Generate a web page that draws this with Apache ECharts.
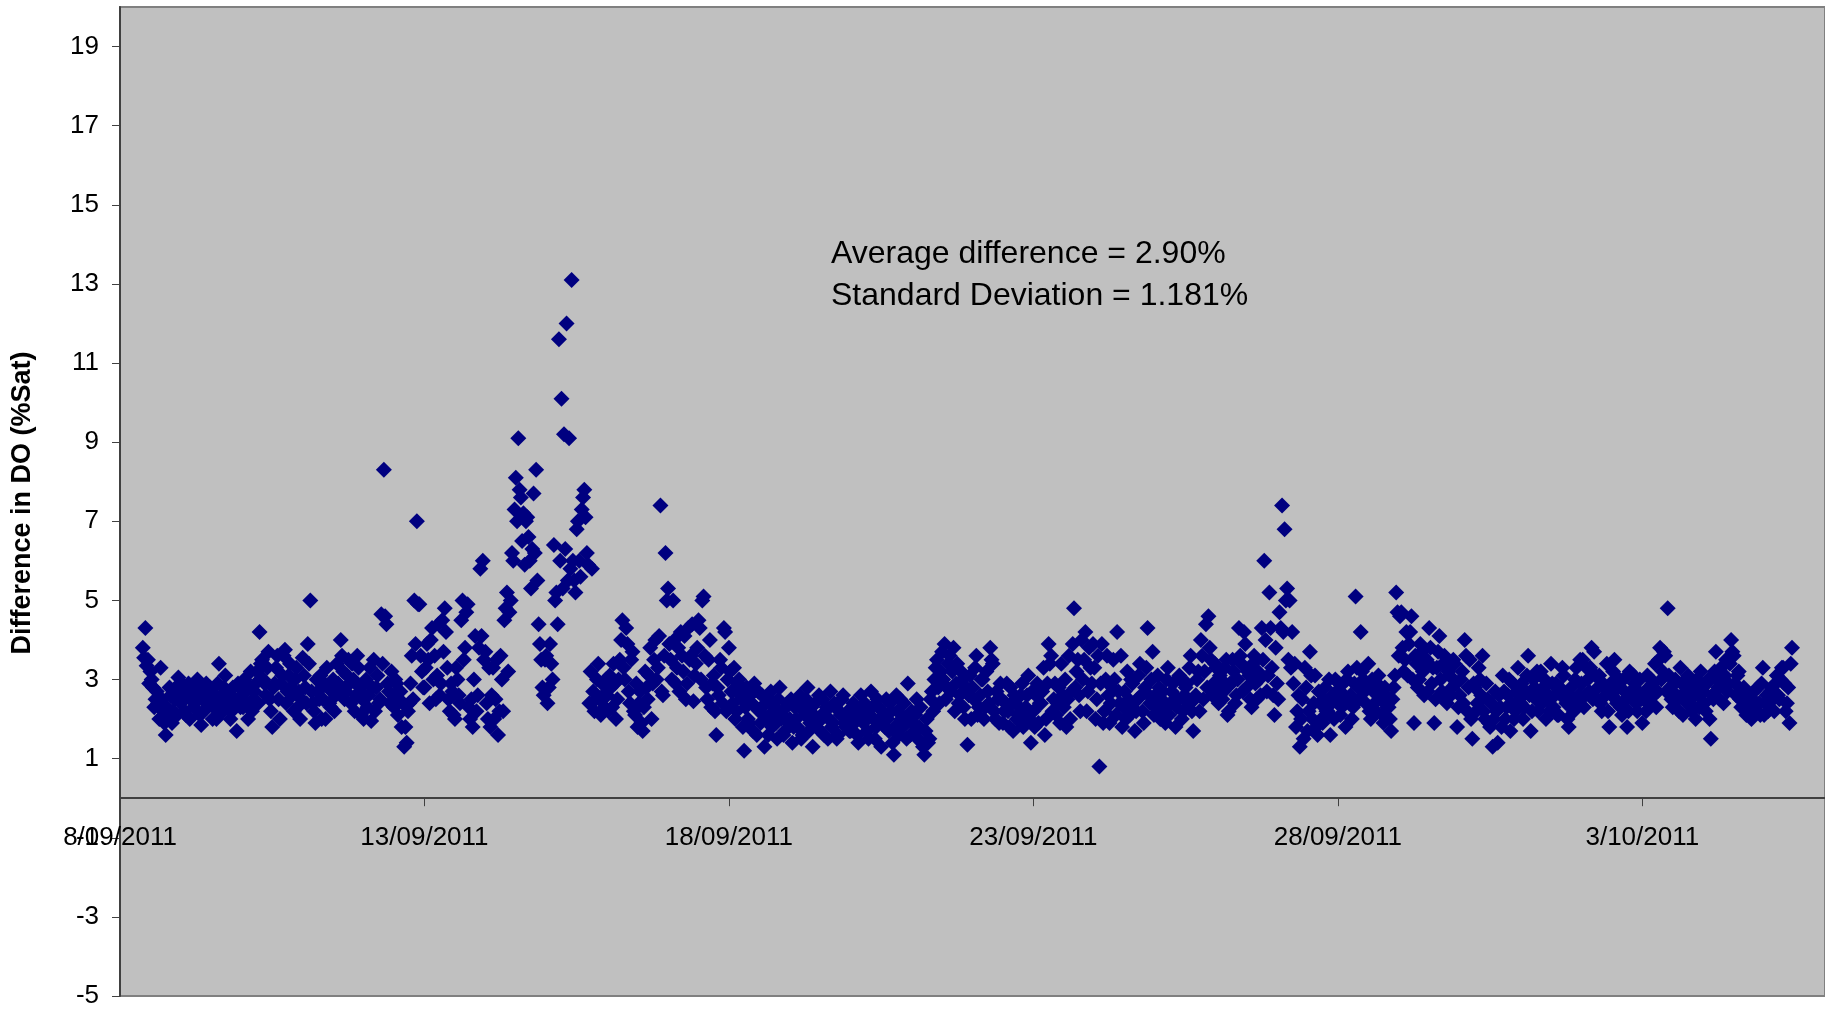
<!DOCTYPE html>
<html>
<head>
<meta charset="utf-8">
<script src="https://cdn.jsdelivr.net/npm/echarts@6/dist/echarts.min.js"></script>
<style>
html,body{margin:0;padding:0;background:#fff;}
#chart{width:1825px;height:1009px;}
</style>
</head>
<body>
<div id="chart"></div>
<script>
// Difference in DO (%Sat).
// On-the-hour readings: first array starts 8/09/2011 09:00, the others at 00:00.
const startHour = 9;
const d0809 = [3.8,4.3,3.5,3.2,2.8,2.5,2.4,3.3,2.2,1.6,2.0,2.6,2.2,2.8,3.05];
const d0909 = [2.4,2.7,2.1,2.9,2.5,2.3,2.8,2.6,1.85,2.2,2.9,2.5,2.7,2.3,2.0,3.4,2.6,2.8,2.4,2.7,2.2,2.5,1.7,2.8];
const d1009 = [2.6,3.0,2.4,2.8,2.2,2.7,3.2,4.2,3.5,2.9,3.3,2.5,1.8,2.9,3.6,2.0,3.1,3.75,2.7,3.4,2.6,3.0,2.3,2.0];
const d1109 = [3.55,2.8,3.9,5.0,2.4,1.9,2.7,3.1,2.5,2.0,2.8,2.3,3.0,2.6,2.9,4.0,3.2,2.7,3.5,2.4,3.0,2.6,3.3,2.1];
const d1209 = [2.0,3.0,2.6,1.95,3.5,2.8,2.4,4.65,8.3,4.4,2.7,3.2,2.3,2.9,2.5,1.8,1.3,1.4,2.4,3.6,5.0,7.0,4.9,3.2];
const d1309 = [2.8,3.9,2.4,4.3,3.6,3.1,2.6,4.5,4.8,3.3,2.2,2.7,2.0,3.0,2.4,5.0,3.8,4.9,2.0,1.8,4.1,2.6,5.8,6.0];
const d1409 = [3.7,2.0,1.8,3.3,2.5,1.6,3.6,2.2,4.8,3.2,5.0,6.0,8.1,9.1,7.6,7.2,7.0,6.6,5.3,7.7,8.3,4.4,3.5,2.6];
const d1509 = [3.6,2.8,3.4,6.4,5.2,11.6,10.1,9.2,12.0,9.1,13.1,5.5,6.8,6.0,7.3,7.8,6.2,2.4,5.8,2.2,3.0,2.5,2.9,2.3];
const d1609 = [2.6,3.1,2.3,2.9,2.5,3.5,4.5,3.0,3.9,2.4,3.7,2.1,1.8,2.7,1.7,3.2,2.5,3.8,2.9,4.0,3.3,7.4,2.6,6.2];
const d1709 = [5.3,3.5,5.0,2.9,3.8,4.2,3.2,2.5,4.3,3.6,2.45,3.4,4.5,3.0,5.1,2.8,3.5,2.3,3.1,1.6,2.6,3.3,4.3,2.2];
const d1809 = [3.8,2.7,3.3,2.2,3.0,2.5,1.2,2.8,1.9,2.4,2.9,1.6,2.2,2.6,1.3,2.0,2.5,1.8,2.3,1.5,2.8,2.1,1.7,2.4];
const d1909 = [2.0,1.4,2.3,1.8,2.6,1.6,2.1,2.8,1.9,1.3,2.4,2.0,1.7,2.5,2.2,1.5,2.7,1.9,2.3,1.6,2.1,2.6,1.8,2.2];
const d2009 = [1.7,2.4,2.0,1.4,2.6,1.9,2.2,1.5,2.7,2.0,1.8,2.3,1.3,2.1,2.5,1.7,2.2,1.1,2.6,1.6,2.0,2.4,1.5,2.1];
const d2109 = [2.2,1.6,2.5,1.8,1.4,1.1,2.0,1.5,2.7,3.0,3.5,2.4,3.7,3.9,2.8,3.6,3.2,2.2,3.4,2.6,3.0,2.0,1.35,3.1];
const d2209 = [2.8,3.3,2.1,2.6,3.0,2.3,2.7,3.8,3.4,2.0,2.5,2.9,1.9,2.4,2.2,2.8,1.7,2.5,2.1,2.6,1.8,2.3,3.1,1.4];
const d2309 = [2.2,2.6,1.9,2.4,3.3,2.0,3.9,3.6,2.5,2.1,2.8,3.4,2.3,1.8,3.6,2.7,4.8,3.2,2.6,4.0,3.5,2.2,3.8,2.9];
const d2409 = [3.3,2.5,0.8,3.9,2.2,3.6,1.9,2.8,3.0,4.2,2.4,1.8,2.7,3.2,2.1,2.9,1.7,2.5,3.4,2.2,2.8,4.3,2.4,3.7];
const d2509 = [2.6,3.1,2.0,2.7,1.9,3.3,2.4,2.9,1.8,2.5,3.0,2.2,2.8,2.4,3.6,1.7,2.6,3.2,4.0,2.5,4.4,4.6,3.5,2.9];
const d2609 = [3.3,2.4,3.0,2.7,3.5,2.2,2.9,3.2,2.6,4.3,3.4,4.2,2.8,3.1,2.3,3.6,2.5,3.0,4.3,6.0,2.7,5.2,3.3,2.1];
const d2709 = [2.9,4.7,7.4,6.8,5.3,5.0,4.2,3.4,2.2,1.3,2.5,3.3,1.7,3.7,2.0,3.1,1.6,2.4,1.9,2.8,2.2,1.6,2.6,3.0];
const d2809 = [2.5,2.1,2.9,1.8,3.2,2.6,2.3,5.1,2.8,4.2,3.0,2.4,3.4,2.0,2.7,2.2,3.1,2.5,1.9,2.6,2.3,1.7,2.8,5.2];
const d2909 = [3.6,4.7,3.2,4.2,3.9,4.6,1.9,3.4,3.0,3.7,2.6,3.5,4.3,2.9,1.9,3.3,4.1,2.7,3.6,2.4,3.1,2.8,3.4,1.8];
const d3009 = [2.6,3.2,4.0,2.2,3.5,1.5,2.8,2.4,3.0,3.6,2.0,2.5,1.8,1.3,2.7,1.4,2.3,3.1,2.0,2.6,1.7,2.9,2.2,3.3];
const d0110 = [2.4,2.0,2.7,3.6,1.7,3.0,2.5,2.2,3.2,2.8,2.0,2.6,3.4,2.3,2.9,2.1,2.7,3.1,2.4,1.8,2.8,2.2,3.3,2.6];
const d0210 = [2.9,2.3,3.3,2.7,3.8,3.7,2.5,3.1,2.2,2.8,3.4,1.8,2.6,3.5,2.4,3.0,2.1,2.7,1.8,3.2,2.5,2.9,2.2,3.0];
const d0310 = [1.9,2.6,3.1,2.4,2.9,3.4,2.7,3.8,3.2,3.6,4.8,2.8,2.3,3.0,2.5,3.3,2.1,2.7,3.1,2.4,2.9,2.0,2.6,3.2];
const d0410 = [2.7,2.2,3.0,1.5,2.5,3.7,2.8,3.3,2.4,3.5,2.9,4.0,3.6,2.6,3.2,2.3,2.8,2.1,2.5,2.0,2.7,2.2,2.4,2.9];
const d0510 = [2.1,2.6,2.3,2.8,2.2,3.1,2.5,3.3,2.9,2.4,1.9,3.8];

// Half-past readings: first array starts 8/09/2011 09:30, the others at 00:30.
const h0809 = [3.55,3.35,2.9,3.0,2.3,2.7,2.0,2.5,1.9,2.3,2.8,1.9,2.5,2.1,2.6];
const h0909 = [2.9,2.2,2.6,2.0,2.8,2.4,3.0,2.1,2.5,2.7,2.3,2.8,2.0,2.6,2.9,2.4,2.2,3.1,2.5,2.0,2.8,2.4,2.9,2.3];
const h1009 = [2.3,2.7,2.0,3.2,2.5,2.9,2.4,3.4,3.0,2.6,3.7,2.2,2.8,3.3,2.5,2.9,3.6,2.4,3.1,2.8,2.2,3.3,2.7,2.5];
const h1109 = [3.1,2.4,3.4,2.7,2.2,3.0,2.5,2.0,2.9,3.3,2.4,2.7,2.2,3.4,2.8,3.6,2.5,3.1,2.9,3.4,2.2,3.6,2.8,2.5];
const h1209 = [2.6,2.3,3.3,2.8,2.2,3.1,2.5,3.4,4.6,2.9,2.4,2.6,3.0,2.1,2.7,2.4,1.8,2.2,2.9,2.5,3.9,4.9,3.6,2.8];
const h1309 = [3.3,3.5,4.0,3.0,2.5,4.4,2.9,3.7,4.2,2.5,2.9,2.1,3.3,2.6,4.5,3.5,4.7,2.3,2.5,3.0,2.2,3.8,4.1,3.5];
const h1409 = [2.4,3.3,2.6,2.0,3.5,2.2,3.0,4.5,5.2,4.7,6.2,7.3,7.0,7.8,6.5,5.9,7.1,6.0,6.3,6.2,5.5,3.9,2.8,3.5];
const h1509 = [2.4,3.9,3.0,5.0,4.4,6.0,5.3,6.3,5.5,5.8,6.0,5.2,7.0,5.6,7.6,7.1,5.9,3.2,2.7,2.5,3.4,2.1,2.6,3.0];
const h1609 = [2.2,2.8,3.4,2.0,3.0,4.0,3.3,4.3,2.7,3.5,2.2,2.9,2.4,1.9,2.3,2.8,3.1,2.0,3.5,3.0,4.1,2.7,3.6,5.0];
const h1709 = [3.9,3.0,4.0,3.3,2.7,3.6,4.1,2.9,3.5,4.4,3.1,3.8,4.3,5.0,3.6,2.5,4.0,2.9,2.2,2.8,3.5,2.4,4.2,3.0];
const h1809 = [3.2,2.4,2.0,2.9,2.6,1.8,2.3,2.0,2.6,1.7,2.3,2.7,1.9,2.1,2.4,1.6,2.7,2.2,1.9,2.5,2.0,1.6,2.3,1.9];
const h1909 = [2.5,1.8,2.0,2.4,1.5,2.2,2.5,1.7,2.3,2.1,1.8,2.6,2.0,1.6,2.3,2.0,1.8,2.4,1.5,2.2,2.5,1.9,2.1,1.7];
const h2009 = [2.3,1.9,1.6,2.2,2.0,2.4,1.7,2.1,2.3,1.5,2.5,1.9,2.2,1.8,2.0,2.4,1.4,1.8,2.2,2.5,1.8,2.0,2.9,1.6];
const h2109 = [1.9,2.1,1.5,2.3,1.3,1.7,1.4,2.5,2.2,3.3,2.8,3.2,3.0,2.5,3.4,2.7,3.8,2.9,2.4,3.2,2.3,2.8,2.6,2.0];
const h2209 = [2.5,3.6,2.3,3.0,2.0,3.2,2.4,3.5,2.2,2.7,1.9,2.5,2.2,2.9,1.8,2.4,2.6,2.0,2.3,2.9,2.1,2.6,2.0,2.7];
const h2309 = [1.8,2.9,2.4,2.7,1.6,2.9,3.4,2.2,2.9,2.4,1.9,2.6,3.0,2.5,2.0,3.9,2.8,3.5,2.2,3.0,4.2,2.7,3.3,3.9];
const h2409 = [2.0,3.6,2.9,1.9,3.0,2.6,2.4,3.5,2.1,2.7,3.6,2.3,2.0,2.5,3.0,2.4,2.2,3.1,2.6,1.9,3.3,2.6,3.0,2.1];
const h2509 = [2.3,2.8,2.5,2.2,3.0,2.1,2.7,2.4,2.3,3.1,2.0,2.6,2.9,3.3,2.2,2.5,3.0,2.2,3.6,3.2,2.8,3.8,2.6,3.4];
const h2609 = [2.8,3.1,2.5,3.3,2.1,2.9,3.5,2.4,3.0,3.6,2.7,3.9,3.2,2.5,3.4,2.9,3.2,2.6,3.5,4.0,3.1,4.3,2.6,3.8];
const h2709 = [2.5,4.3,4.2,5.0,3.5,3.3,2.9,1.8,2.6,2.0,1.5,2.8,2.2,3.1,2.4,1.8,2.7,2.0,2.5,2.2,3.0,2.4,2.0,2.7];
const h2809 = [2.9,2.3,2.6,3.0,2.4,2.0,2.9,3.3,2.5,3.2,2.7,2.9,2.2,3.0,2.4,2.9,2.6,2.1,2.8,2.3,2.0,2.5,3.1,4.7];
const h2909 = [4.6,3.8,3.5,3.1,4.2,3.0,3.6,2.8,3.9,3.2,3.5,2.7,3.8,3.3,2.5,3.7,3.0,3.4,2.5,3.2,2.6,3.5,2.9,2.3];
const h3009 = [3.0,2.4,3.6,2.8,2.0,2.9,2.2,3.3,2.6,2.2,2.9,1.9,2.4,2.0,2.2,2.6,1.8,2.7,2.3,3.0,2.4,2.0,2.7,2.5];
const h0110 = [2.9,2.3,3.1,2.6,2.2,2.8,3.2,2.7,2.4,3.0,2.5,2.2,2.9,2.6,2.1,2.8,3.3,2.5,2.0,2.6,2.3,3.0,2.5,3.5];
const h0210 = [3.5,2.6,3.0,3.3,2.5,3.1,2.8,2.4,2.9,2.6,2.2,2.9,3.2,2.5,2.8,2.3,3.0,2.5,2.2,2.7,3.1,2.4,2.7,2.5];
const h0310 = [2.5,2.2,2.8,3.0,2.6,2.3,3.5,3.0,3.7,2.7,3.1,2.5,2.9,2.6,2.2,2.9,2.6,2.4,2.8,2.2,2.6,3.0,2.3,2.8];
const h0410 = [2.4,2.9,2.0,2.6,3.2,3.0,2.5,2.9,3.1,2.7,3.4,3.7,2.9,3.1,2.5,2.7,2.3,2.6,2.2,2.5,2.3,2.8,2.1,3.3];
const h0510 = [2.4,2.2,2.7,2.5,2.9,2.6,3.0,3.3,2.2,2.8,3.4];

const hourArrays = [d0809,d0909,d1009,d1109,d1209,d1309,d1409,d1509,d1609,d1709,d1809,d1909,d2009,d2109,
  d2209,d2309,d2409,d2509,d2609,d2709,d2809,d2909,d3009,d0110,d0210,d0310,d0410,d0510];
const halfArrays = [h0809,h0909,h1009,h1109,h1209,h1309,h1409,h1509,h1609,h1709,h1809,h1909,h2009,h2109,
  h2209,h2309,h2409,h2509,h2609,h2709,h2809,h2909,h3009,h0110,h0210,h0310,h0410,h0510];

// x axis: days since 8/09/2011, one tick every 5 days
const xTickLabels = ['8/09/2011','13/09/2011','18/09/2011','23/09/2011','28/09/2011','3/10/2011'];
const yAxisTitle = 'Difference in DO (%Sat)';
const noteLines = ['Average difference = 2.90%', 'Standard Deviation = 1.181%'];

const points = [];
hourArrays.forEach((arr, d) => {
  const h0 = d === 0 ? startHour : 0;
  arr.forEach((v, i) => points.push([d + (h0 + i) / 24, v]));
});
halfArrays.forEach((arr, d) => {
  const h0 = (d === 0 ? startHour : 0) + 0.5;
  arr.forEach((v, i) => points.push([d + (h0 + i) / 24, v]));
});
points.sort((a, b) => a[0] - b[0]);

const FONT = "'Liberation Sans', Arial, sans-serif";
const GRID_TOP = 7, GRID_BOTTOM = 13, H = 1009;
const Y_MIN = -5, Y_MAX = 20;
const zeroOffset = (H - GRID_TOP - GRID_BOTTOM) * (0 - Y_MIN) / (Y_MAX - Y_MIN);

const chart = echarts.init(document.getElementById('chart'), null, {renderer: 'canvas'});
chart.setOption({
  animation: false,
  backgroundColor: '#ffffff',
  grid: {
    left: 120, top: GRID_TOP, right: -2, bottom: GRID_BOTTOM,
    show: true, backgroundColor: '#C0C0C0', borderColor: '#808080', borderWidth: 2
  },
  xAxis: {
    type: 'value', min: 0, max: 28, interval: 5,
    position: 'bottom', offset: -zeroOffset,
    axisLine: {show: true, onZero: false, lineStyle: {color: '#404040', width: 2}},
    axisTick: {show: true, length: 8, lineStyle: {color: '#404040', width: 1}},
    axisLabel: {
      show: true, margin: 27, showMaxLabel: false,
      color: '#000', fontFamily: FONT, fontSize: 26,
      formatter: v => { const k = Math.round(v / 5); return (Math.abs(v - k * 5) < 1e-6 && xTickLabels[k]) ? xTickLabels[k] : ''; }
    },
    splitLine: {show: false}
  },
  yAxis: {
    type: 'value', min: Y_MIN, max: Y_MAX, interval: 2,
    axisLine: {show: true, onZero: false, lineStyle: {color: '#404040', width: 2}},
    axisTick: {show: true, length: 8, lineStyle: {color: '#404040', width: 1}},
    axisLabel: {show: true, margin: 21, showMaxLabel: false, color: '#000', fontFamily: FONT, fontSize: 26},
    splitLine: {show: false}
  },
  graphic: [{
    type: 'text', x: 831, y: 233, z: 100,
    style: {text: noteLines.join('\n'), fill: '#000', fontFamily: FONT, fontSize: 32, lineHeight: 42, verticalAlign: 'top'}
  }, {
    type: 'text', x: 23, y: 503, rotation: Math.PI / 2, z: 100,
    style: {text: yAxisTitle, fill: '#000', fontFamily: FONT, fontSize: 27, fontWeight: 'bold', align: 'center', verticalAlign: 'middle'}
  }],
  series: [{
    type: 'scatter',
    data: points,
    symbol: 'diamond',
    symbolSize: 16,
    itemStyle: {color: '#000080', opacity: 1},
    z: 3
  }]
});
</script>
</body>
</html>
